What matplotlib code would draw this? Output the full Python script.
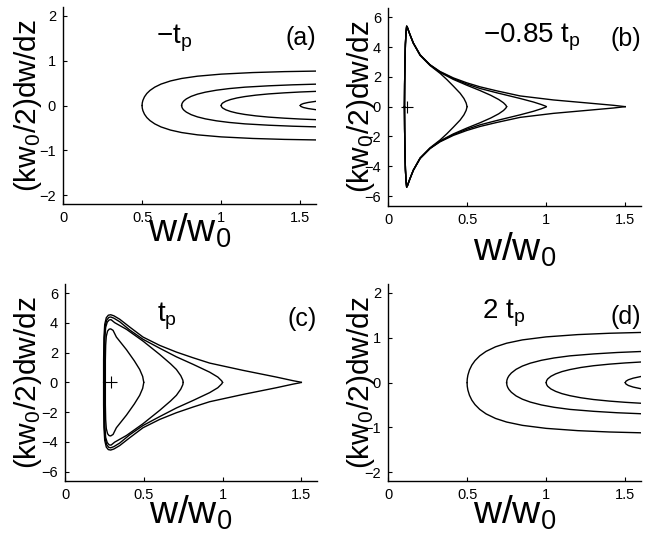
import matplotlib
matplotlib.use("Agg")
import matplotlib.pyplot as plt

plt.rcParams['font.family'] = ['Liberation Sans', 'DejaVu Sans']
plt.rcParams['mathtext.default'] = 'regular'

# ---- panel (a): -t_p, upper halves of the curves (lower half is mirrored)
a1_x = [0.5, 0.501, 0.505, 0.515, 0.53, 0.55, 0.58, 0.62, 0.68, 0.75, 0.85, 1.0, 1.2, 1.4, 1.6]
a1_y = [0, 0.055, 0.114, 0.194, 0.269, 0.337, 0.41, 0.479, 0.549, 0.604, 0.655, 0.701, 0.736, 0.757, 0.769]
a2_x = [0.75, 0.752, 0.757, 0.765, 0.78, 0.81, 0.85, 0.9, 0.97, 1.05, 1.15, 1.3, 1.45, 1.6]
a2_y = [0, 0.039, 0.073, 0.106, 0.148, 0.204, 0.254, 0.298, 0.342, 0.378, 0.41, 0.44, 0.462, 0.477]
a3_x = [1.0, 1.003, 1.01, 1.03, 1.06, 1.1, 1.15, 1.22, 1.3, 1.4, 1.5, 1.6]
a3_y = [0, 0.031, 0.057, 0.097, 0.134, 0.169, 0.2, 0.232, 0.259, 0.283, 0.302, 0.316]
a4_x = [1.5, 1.505, 1.52, 1.55, 1.6]
a4_y = [0, 0.022, 0.044, 0.068, 0.094]

# ---- panel (b): -0.85 t_p
b1_x = [0.104, 0.105, 0.107, 0.110, 0.114, 0.118, 0.123, 0.129, 0.139, 0.16, 0.203, 0.266, 0.329,
        0.413, 0.498, 0.582, 0.688, 0.835, 1.046, 1.258, 1.426, 1.5]
b1_y = [0, 1.5, 3.0, 4.2, 5.0, 5.4, 5.3, 5.12, 4.83, 4.27, 3.48, 2.81, 2.36,
        1.93, 1.60, 1.33, 1.06, 0.72, 0.45, 0.25, 0.09, 0]
b2_x = [0.104, 0.105, 0.107, 0.110, 0.114, 0.118, 0.123, 0.129, 0.139, 0.16, 0.203, 0.266, 0.329,
        0.413, 0.498, 0.582, 0.688, 0.835, 0.92, 0.97, 0.995, 1.0]
b2_y = [0, 1.5, 3.0, 4.2, 5.0, 5.4, 5.3, 5.12, 4.83, 4.27, 3.47, 2.80, 2.33,
        1.88, 1.52, 1.22, 0.93, 0.55, 0.31, 0.14, 0.04, 0]
b3_x = [0.104, 0.105, 0.107, 0.110, 0.114, 0.118, 0.123, 0.129, 0.139, 0.16, 0.203, 0.266, 0.329,
        0.413, 0.498, 0.582, 0.65, 0.70, 0.73, 0.745, 0.75]
b3_y = [0, 1.5, 3.0, 4.2, 5.0, 5.4, 5.3, 5.12, 4.83, 4.27, 3.46, 2.79, 2.30,
        1.83, 1.44, 1.08, 0.76, 0.48, 0.26, 0.10, 0]
b4_x = [0.104, 0.105, 0.107, 0.110, 0.114, 0.118, 0.123, 0.129, 0.139, 0.16, 0.203, 0.266, 0.329,
        0.372, 0.413, 0.456, 0.48, 0.494, 0.5]
b4_y = [0, 1.5, 3.0, 4.2, 5.0, 5.4, 5.3, 5.12, 4.83, 4.26, 3.44, 2.76, 2.24,
        1.82, 1.38, 0.90, 0.55, 0.25, 0]

# ---- panel (c): t_p
c1_x = [0.245, 0.245, 0.247, 0.252, 0.262, 0.275, 0.29, 0.31, 0.347, 0.411, 0.495, 0.601, 0.707,
        0.812, 0.918, 1.13, 1.341, 1.45, 1.49, 1.5]
c1_y = [0, 1.5, 3.0, 3.9, 4.35, 4.52, 4.55, 4.48, 4.25, 3.72, 3.05, 2.49, 2.04,
        1.66, 1.30, 0.81, 0.36, 0.11, 0.03, 0]
c2_x = [0.248, 0.248, 0.25, 0.255, 0.265, 0.278, 0.29, 0.31, 0.347, 0.411, 0.495, 0.601, 0.707,
        0.812, 0.918, 0.97, 0.995, 1.0]
c2_y = [0, 1.5, 3.0, 3.8, 4.2, 4.37, 4.40, 4.32, 4.08, 3.52, 2.90, 2.30, 1.72,
        1.22, 0.69, 0.36, 0.10, 0]
c3_x = [0.251, 0.251, 0.253, 0.258, 0.268, 0.28, 0.292, 0.315, 0.39, 0.495, 0.601, 0.67, 0.707,
        0.735, 0.748, 0.75]
c3_y = [0, 1.5, 3.0, 3.7, 4.05, 4.2, 4.22, 4.02, 3.57, 2.78, 1.88, 1.25, 0.87,
        0.45, 0.15, 0]
c4_x = [0.256, 0.256, 0.258, 0.262, 0.27, 0.28, 0.29, 0.305, 0.326, 0.39, 0.44, 0.474, 0.493, 0.5]
c4_y = [0, 1.5, 2.5, 3.1, 3.45, 3.58, 3.6, 3.5, 3.05, 2.2, 1.45, 0.87, 0.4, 0]

# ---- panel (d): 2 t_p
d1_x = a1_x
d1_y = [0, 0.080, 0.166, 0.282, 0.391, 0.490, 0.597, 0.697, 0.799, 0.879, 0.953, 1.020, 1.071, 1.101, 1.119]
d2_x = a2_x
d2_y = [0, 0.057, 0.106, 0.154, 0.215, 0.297, 0.370, 0.434, 0.498, 0.550, 0.597, 0.640, 0.672, 0.694]
d3_x = a3_x
d3_y = [0, 0.045, 0.083, 0.141, 0.195, 0.246, 0.291, 0.338, 0.377, 0.412, 0.439, 0.460]
d4_x = a4_x
d4_y = [0, 0.032, 0.064, 0.099, 0.137]

# fixed points marked with +
b_fixed = (0.118, 0.0)
c_fixed = (0.294, 0.0)

panel_labels = ['(a)', '(b)', '(c)', '(d)']
time_labels = ['\u2212t$_p$', '\u22120.85 t$_p$', 't$_p$', '2 t$_p$']
xticks = [0, 0.5, 1, 1.5]
yticks_small = [-2, -1, 0, 1, 2]
yticks_big = [-6, -4, -2, 0, 2, 4, 6]


def draw_curve(ax, xs, ys):
    ax.plot(xs, ys, color='k', lw=1.0)
    ax.plot(xs, [-v for v in ys], color='k', lw=1.0)


def style_axes(ax, yticks, ylim, ylab_x, xlab_y):
    ax.set_xlim(0, 1.6)
    ax.set_ylim(*ylim)
    ax.set_xticks(xticks)
    ax.set_xticklabels(['0', '0.5', '1', '1.5'])
    ax.set_yticks(yticks)
    for s in ['top', 'right']:
        ax.spines[s].set_visible(False)
    for s in ['left', 'bottom']:
        ax.spines[s].set_linewidth(1.0)
    ax.tick_params(direction='in', length=3, width=0.8, labelsize=10.5, pad=5)
    ax.set_xlabel('w/w$_0$', fontsize=28, va='baseline')
    ax.xaxis.set_label_coords(0.5, xlab_y)
    ax.set_ylabel('(kw$_0$/2)dw/dz', fontsize=21.5)
    ax.yaxis.set_label_coords(ylab_x, 0.5)


fig = plt.figure(figsize=(6.69, 5.36), dpi=100)
ax_a = fig.add_axes([0.0942, 0.6194, 0.3782, 0.3675])
ax_b = fig.add_axes([0.5800, 0.6162, 0.3782, 0.3688])
ax_c = fig.add_axes([0.0972, 0.1021, 0.3767, 0.3681])
ax_d = fig.add_axes([0.5800, 0.1021, 0.3782, 0.3681])

for xs, ys in [(a1_x, a1_y), (a2_x, a2_y), (a3_x, a3_y), (a4_x, a4_y)]:
    draw_curve(ax_a, xs, ys)
for xs, ys in [(b1_x, b1_y), (b2_x, b2_y), (b3_x, b3_y), (b4_x, b4_y)]:
    draw_curve(ax_b, xs, ys)
for xs, ys in [(c1_x, c1_y), (c2_x, c2_y), (c3_x, c3_y), (c4_x, c4_y)]:
    draw_curve(ax_c, xs, ys)
for xs, ys in [(d1_x, d1_y), (d2_x, d2_y), (d3_x, d3_y), (d4_x, d4_y)]:
    draw_curve(ax_d, xs, ys)

ax_b.plot([b_fixed[0]], [b_fixed[1]], marker='+', color='k', ms=9, mew=0.8)
ax_c.plot([c_fixed[0]], [c_fixed[1]], marker='+', color='k', ms=9, mew=0.8)

style_axes(ax_a, yticks_small, (-2.2, 2.2), -0.075, -0.193)
style_axes(ax_b, yticks_big, (-6.65, 6.62), -0.045, -0.276)
style_axes(ax_c, yticks_big, (-6.65, 6.62), -0.085, -0.215)
style_axes(ax_d, yticks_small, (-2.2, 2.2), -0.045, -0.216)

# time labels and panel letters
ax_a.text(0.70, 1.39, time_labels[0], fontsize=20, ha='center', va='baseline')
ax_b.text(0.60, 4.3, time_labels[1], fontsize=20, ha='left', va='baseline')
ax_c.text(0.645, 4.1, time_labels[2], fontsize=20, ha='center', va='baseline')
ax_d.text(0.595, 1.43, time_labels[3], fontsize=20, ha='left', va='baseline')

ax_a.text(1.6, 1.5, panel_labels[0], fontsize=18, ha='right', va='center')
ax_b.text(1.6, 4.55, panel_labels[1], fontsize=18, ha='right', va='center')
ax_c.text(1.6, 4.24, panel_labels[2], fontsize=18, ha='right', va='center')
ax_d.text(1.6, 1.46, panel_labels[3], fontsize=18, ha='right', va='center')

fig.savefig('out.png', dpi=100)
